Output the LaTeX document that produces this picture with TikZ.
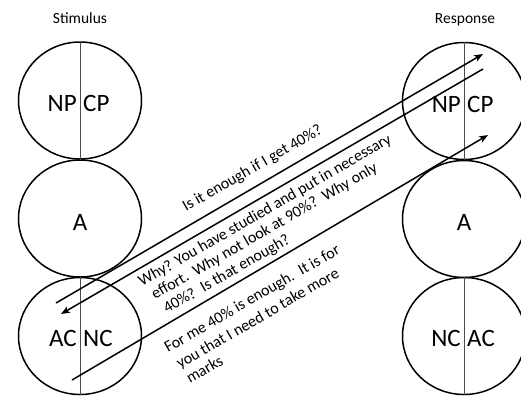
\documentclass[tikz,border=0pt]{standalone}
\usepackage{fontspec}
\setmainfont{Carlito}
\usetikzlibrary{arrows.meta,shapes.geometric}
\begin{document}
\begin{tikzpicture}[x=1bp,y=-1bp,
  ring/.style={draw, line width=1.5bp, ellipse, minimum width=123bp, minimum height=117bp, inner sep=0pt},
  divider/.style={draw=black!70, line width=0.9bp},
  lbl/.style={inner sep=0pt, font=\fontsize{25bp}{29bp}\selectfont},
  head/.style={inner sep=0pt, font=\fontsize{15.5bp}{18bp}\selectfont},
  say/.style={inner sep=0pt, anchor=base west, rotate=30, font=\fontsize{16bp}{18bp}\selectfont},
  msg/.style={line width=1.5bp, -{Stealth[length=9bp,width=7bp,inset=2.5bp]}}]
\useasboundingbox (0,0) rectangle (521,397);

% column headings
\node[head, anchor=base] (stim) at (80,23) {Stimulus};
\node[head, anchor=base] (resp) at (465,23) {Response};

% stimulus side
\node[ring] (sP) at (80,100.5) {};
\node[ring] (sA) at (80,218.5) {};
\node[ring] (sC) at (80,336) {};
\draw[divider] (sP.north) -- (sP.south);
\draw[divider] (sC.north) -- (sC.south);
\node[lbl, anchor=base east] (sNP) at (77,111.5) {NP};
\node[lbl, anchor=base west] (sCP) at (83,111.5) {CP};
\node[lbl, anchor=base] (sAA) at (80,230) {A};
\node[lbl, anchor=base east] (sAC) at (77,346.5) {AC};
\node[lbl, anchor=base west] (sNC) at (83,346.5) {NC};

% response side
\node[ring] (rP) at (464,101) {};
\node[ring] (rA) at (464,219) {};
\node[ring] (rC) at (464,336) {};
\draw[divider] (rP.north) -- (rP.south);
\draw[divider] (rC.north) -- (rC.south);
\node[lbl, anchor=base east] (rNP) at (461,112) {NP};
\node[lbl, anchor=base west] (rCP) at (467,112) {CP};
\node[lbl, anchor=base] (rAA) at (464,230.5) {A};
\node[lbl, anchor=base east] (rNC) at (461,346.5) {NC};
\node[lbl, anchor=base west] (rAC) at (467,346.5) {AC};

% transaction end points
\coordinate (a1s) at (56,303);
\coordinate (a1e) at (483,54);
\coordinate (a2s) at (483,69);
\coordinate (a2e) at (61,314);
\coordinate (a3s) at (72,380);
\coordinate (a3e) at (488,135);

\draw[msg] (a1s) -- (a1e);
\draw[msg] (a2s) -- (a2e);
\draw[msg] (a3s) -- (a3e);

% messages
\node[say] (m1) at (186,212) {Is it enough if I get 40\%?};
\node[say] (m2a) at (142,287) {Why? You have studied and put in necessary};
\node[say] (m2b) at (155,300) {effort.\ \ Why not look at 90\%?\ \ Why only};
\node[say] (m2c) at (167,314) {40\%?\ \ Is that enough?};
\node[say] (m3a) at (168,353) {For me 40\% is enough.\ \ It is for};
\node[say] (m3b) at (180,369) {you that I need to take more};
\node[say] (m3c) at (190,384) {marks};
\end{tikzpicture}
\end{document}
